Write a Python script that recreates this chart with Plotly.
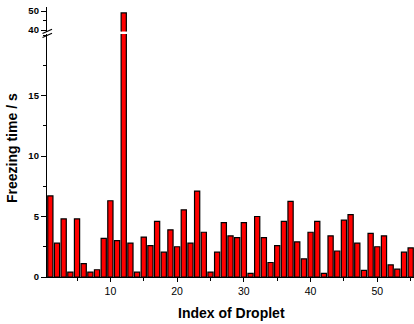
import plotly.graph_objects as go

# freezing time of each droplet (s)
droplet_index = list(range(1, 56))
freezing_time = [6.7, 2.8, 4.8, 0.4, 4.8, 1.1, 0.4, 0.6, 3.2, 6.3,
                 3.0, 49.0, 2.8, 0.4, 3.3, 2.6, 4.6, 2.05, 3.9, 2.5,
                 5.55, 2.8, 7.1, 3.7, 0.4, 2.05, 4.5, 3.4, 3.25, 4.5,
                 0.3, 5.0, 3.25, 1.2, 2.6, 4.6, 6.25, 2.9, 1.5, 3.7,
                 4.6, 0.3, 3.4, 2.15, 4.7, 5.15, 2.8, 0.55, 3.6, 2.5,
                 3.4, 1.0, 0.65, 2.05, 2.4]

x_ticks = [10, 20, 30, 40, 50]
lower_ticks = [0, 5, 10, 15]
upper_ticks = [40, 50]

font = "Liberation Sans, Arial, sans-serif"

# pixel geometry of the plot area (414x324 page)
L, T, B = 47, 7, 277
H = B - T


def py(y):
    return (B - y) / H


def px_(x):
    return (x - L) / (414 - L)


bar_style = dict(marker=dict(color="#ff0000", line=dict(color="#000000", width=1.2)),
                 width=0.78, showlegend=False, hoverinfo="x+y")

fig = go.Figure()
fig.add_trace(go.Bar(x=droplet_index, y=freezing_time, xaxis="x", yaxis="y", **bar_style))
fig.add_trace(go.Bar(x=droplet_index, y=freezing_time, xaxis="x", yaxis="y2", **bar_style))

axis_common = dict(showline=True, linecolor="#000000", linewidth=1.3, showgrid=False,
                   zeroline=False, ticks="outside", tickcolor="#000000", tickwidth=1.2)

fig.update_layout(
    width=414, height=324,
    margin=dict(l=L, r=0, t=T, b=324 - B),
    paper_bgcolor="white", plot_bgcolor="white",
    font=dict(family=font, color="#000000"),
    bargap=0.2,
    xaxis=dict(range=[0.5, 55.5], tickvals=x_ticks, ticklen=4,
               tickfont=dict(size=10.5),
               minor=dict(dtick=5, tick0=0, ticks="outside", ticklen=3, tickcolor="#000000"),
               anchor="y", **axis_common),
    yaxis=dict(domain=[0, py(34)], range=[0, (B - 34) / 12.1], tickvals=lower_ticks,
               ticklen=5, tickfont=dict(size=9.5, weight="bold"),
               minor=dict(dtick=2.5, tick0=0, ticks="outside", ticklen=3, tickcolor="#000000"),
               anchor="x", **axis_common),
    yaxis2=dict(domain=[py(31.5), 1], range=[40 - 1.5 / 1.9, 40 + 23 / 1.9],
                tickvals=upper_ticks, ticklen=5, tickfont=dict(size=9.5, weight="bold"),
                minor=dict(dtick=5, tick0=0, ticks="outside", ticklen=3, tickcolor="#000000"),
                anchor="x", **axis_common),
)

# axis break marks
for y0, y1 in [(33.5, 29.3), (37.5, 33.3)]:
    fig.add_shape(type="line", xref="paper", yref="paper",
                  x0=px_(42.5), x1=px_(52), y0=py(y0), y1=py(y1),
                  line=dict(color="#000000", width=1.2))

fig.add_annotation(text="<b>Freezing time / s</b>", textangle=-90,
                   xref="paper", yref="paper", x=px_(12), y=py(148),
                   xanchor="center", yanchor="middle", showarrow=False,
                   font=dict(size=14, family=font))
fig.add_annotation(text="<b>Index of Droplet</b>",
                   xref="paper", yref="paper", x=px_(231), y=py(313),
                   xanchor="center", yanchor="middle", showarrow=False,
                   font=dict(size=14, family=font))

# the page body has a default 8px margin; drop it so the figure fills the window
fig.write_html("out.html", config={"displayModeBar": False},
               post_script="document.body.style.margin='0';")
